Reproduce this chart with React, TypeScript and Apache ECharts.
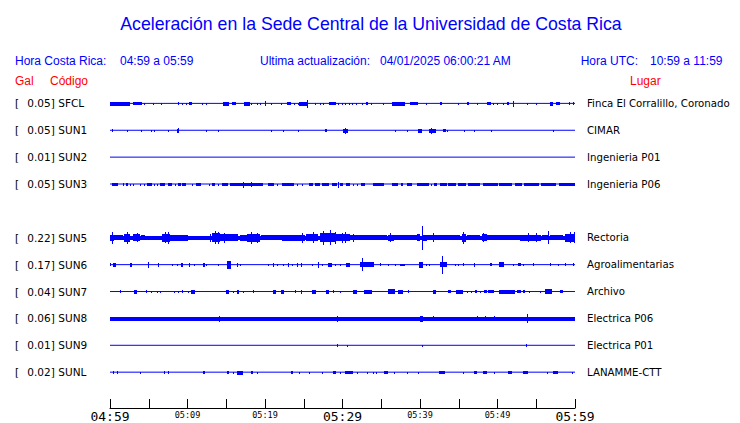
import React, { useEffect, useRef } from 'react';
import * as echarts from 'echarts';

const BLUE = '#0000ff';
const RED = '#ff0000';

const TITLE = 'Aceleración en la Sede Central de la Universidad de Costa Rica';
const HEADER_LOCAL_LABEL = 'Hora Costa Rica:';
const HEADER_LOCAL_RANGE = '04:59 a 05:59';
const HEADER_UPDATE_LABEL = 'Ultima actualización:';
const HEADER_UPDATE_VALUE = '04/01/2025 06:00:21 AM';
const HEADER_UTC_LABEL = 'Hora UTC:';
const HEADER_UTC_RANGE = '10:59 a 11:59';

// Stations (row slot 4 is empty in the original display)
const CODES = ['SFCL', 'SUN1', 'SUN2', 'SUN3', 'SUN5', 'SUN6', 'SUN7', 'SUN8', 'SUN9', 'SUNL'];
const GAL = ['0.05', '0.05', '0.01', '0.05', '0.22', '0.17', '0.04', '0.06', '0.01', '0.02'];
const PLACES = [
  'Finca El Corralillo, Coronado',
  'CIMAR',
  'Ingenieria P01',
  'Ingenieria P06',
  'Rectoria',
  'Agroalimentarias',
  'Archivo',
  'Electrica P06',
  'Electrica P01',
  'LANAMME-CTT',
];
const ROW_SLOT = [0, 1, 2, 3, 5, 6, 7, 8, 9, 10];

// x axis: minutes after 04:59, ticks every 5 minutes
const TICK_LABELS = ['04:59', '', '05:09', '', '05:19', '', '05:29', '', '05:39', '', '05:49', '', '05:59'];
const MAJOR_LABELS = ['04:59', '05:29', '05:59'];

// Trace bursts: [start minute, end minute, half amplitude (1/27 of a row)]
const SFCL_EV = [
  [0, 2.6, 2], [3.0, 4.1, 1.5], [4.4, 4.4, 1.2], [5.6, 5.6, 1], [6.6, 6.6, 1], [8.8, 8.8, 1.5],
  [9.3, 9.3, 1], [9.9, 9.9, 1], [10.3, 10.6, 1.5], [11.9, 11.9, 1], [12.5, 12.5, 1], [14.7, 15.4, 2],
  [15.8, 16.3, 1.5], [17.4, 18.0, 2.2], [18.2, 18.2, 1.2], [19.0, 19.0, 1], [19.4, 19.4, 1], [20.0, 20.0, 2.5],
  [20.9, 20.9, 1], [22.1, 22.1, 1.2], [22.9, 23.3, 1.5], [23.8, 23.8, 1], [24.3, 24.3, 1], [24.5, 25.6, 2],
  [25.5, 25.5, 4], [26.5, 26.5, 1], [27.1, 27.1, 1], [27.6, 27.6, 1], [28.3, 29.1, 1.5], [29.5, 29.5, 1],
  [30.0, 30.0, 1], [30.4, 30.4, 1.2], [30.9, 30.9, 1], [31.3, 31.3, 1.2], [31.8, 31.8, 1.2], [32.6, 32.6, 1.2],
  [33.1, 33.3, 1.5], [33.8, 33.8, 1], [35.3, 35.3, 1], [36.4, 38.1, 2], [38.8, 39.7, 1.5], [40.8, 40.8, 1],
  [42.6, 42.9, 1.5], [45.0, 45.0, 1], [46.1, 46.3, 1.5], [47.4, 47.4, 1], [48.7, 49.1, 1.5], [49.5, 49.5, 1],
  [50.0, 50.0, 1], [50.8, 50.8, 1], [51.3, 51.5, 1.5], [52.0, 52.0, 3], [53.9, 53.9, 1], [55.0, 55.0, 1],
  [56.8, 57.2, 2], [57.6, 58.1, 1.5], [59.3, 59.3, 1.5], [59.8, 59.8, 1.5],
];
const SUN1_EV = [
  [0.3, 0.3, 1.5], [2.3, 2.3, 1], [4.1, 4.1, 1], [5.4, 5.4, 1], [5.7, 5.7, 1], [7.6, 7.6, 1],
  [8.7, 8.9, 2], [8.8, 8.8, 2.7], [12.5, 12.5, 1], [14.0, 14.0, 1], [20.8, 20.8, 1], [22.4, 22.4, 1],
  [24.3, 24.3, 1], [27.8, 28.0, 1.5], [30.1, 30.7, 2], [30.4, 30.4, 3], [36.8, 36.8, 1], [38.4, 38.4, 1],
  [39.8, 40.3, 2], [41.2, 42.1, 2], [41.5, 41.5, 3], [43.0, 43.3, 1.5], [43.5, 43.5, 1], [45.7, 45.7, 1],
  [47.0, 47.0, 1], [49.2, 49.2, 1], [57.2, 57.2, 1],
];
const SUN2_EV: number[][] = [];
const SUN3_EV = [
  [0.3, 1.0, 1.7], [1.7, 1.7, 1.5], [2.1, 2.3, 1.5], [2.7, 2.7, 1.2], [3.0, 3.0, 1.2], [3.9, 3.9, 1.2],
  [4.5, 4.5, 1], [4.9, 5.4, 1.7], [5.7, 5.7, 1.2], [6.1, 6.1, 1.2], [6.5, 7.1, 1.7], [7.5, 8.0, 1.7],
  [8.4, 8.4, 1.2], [8.8, 9.2, 1.7], [9.4, 9.8, 1.5], [10.7, 10.7, 1], [11.2, 11.8, 1.7], [12.9, 12.9, 1],
  [13.2, 13.6, 1.5], [14.0, 14.0, 1.2], [14.5, 15.2, 1.7], [15.6, 16.4, 1.7], [16.5, 19.8, 1.7], [17.2, 17.2, 3],
  [18.3, 18.3, 2.5], [20.4, 21.1, 1.7], [21.6, 21.6, 1.2], [22.2, 23.8, 1.7], [24.2, 24.2, 1.2], [24.8, 24.8, 1.2],
  [25.7, 26.2, 1.7], [26.5, 27.1, 1.7], [27.4, 28.2, 1.7], [28.7, 29.3, 1.7], [29.5, 29.5, 3], [29.7, 30.1, 1.5],
  [30.5, 31.0, 1.7], [31.4, 31.4, 1.2], [31.9, 31.9, 1.2], [32.4, 32.9, 1.7], [34.0, 35.3, 1.7], [36.4, 37.2, 1.7],
  [37.6, 37.8, 1.5], [38.4, 39.0, 1.7], [39.7, 41.1, 1.7], [41.5, 41.5, 1.2], [41.9, 42.2, 1.5], [42.6, 43.5, 1.7],
  [43.7, 44.2, 1.7], [44.3, 44.6, 1.5], [45.0, 45.9, 1.7], [46.3, 47.8, 1.7], [48.2, 50.0, 1.7], [50.3, 51.3, 1.7],
  [51.4, 51.9, 1.5], [52.3, 53.2, 1.7], [53.5, 55.4, 1.7], [55.7, 57.6, 1.7], [58.0, 60, 1.7],
];
const SUN5_EV = [
  [0, 60, 1.8],
  [0, 0.5, 3], [0.6, 1.7, 2.3], [1.9, 2.6, 4], [3.0, 3.9, 3.3], [4.1, 4.5, 2.3], [6.8, 7.8, 4], [7.8, 9.3, 3],
  [9.4, 10.1, 3], [13.2, 14.2, 4.5], [14.2, 16.5, 3.3], [16.8, 17.7, 2.8], [17.8, 19.4, 4], [19.6, 22.2, 2.5],
  [22.3, 23.5, 2.8], [23.6, 25.2, 3], [25.4, 26.9, 3.3], [27.1, 29.1, 4.5], [29.1, 31.0, 3.5], [31.0, 35.8, 2.5],
  [35.9, 36.6, 3], [36.6, 39.7, 2.5], [39.7, 40.0, 3.5], [40.4, 40.9, 3], [40.9, 45.2, 2.5], [45.5, 45.9, 4],
  [46.1, 47.8, 2.5], [48.1, 48.7, 3.3], [48.7, 53.0, 2.5], [53.0, 55.6, 3.2], [55.8, 56.5, 2.5], [56.8, 58.5, 2.5],
  [58.8, 60, 4],
  [0.26, 0.26, 6], [2.3, 2.3, 6], [3.5, 3.5, 4.5], [7.1, 7.1, 5.5], [7.5, 7.5, 6], [13.0, 13.0, 4], [13.6, 13.6, 6.5],
  [14.0, 14.0, 6], [14.8, 14.8, 5], [18.3, 18.3, 6], [19.0, 19.0, 5], [24.8, 24.8, 5], [26.3, 26.3, 5.5],
  [27.6, 27.6, 7], [28.4, 28.4, 7.5], [29.1, 29.1, 6], [30.0, 30.0, 5], [30.4, 30.4, 5.5], [31.4, 31.4, 4],
  [36.2, 36.2, 4.5], [40.3, 40.3, 12], [41.7, 41.7, 4.5], [45.6, 45.6, 6], [48.2, 48.2, 4.5], [54.0, 54.0, 4.5],
  [55.0, 55.0, 4.5], [56.6, 56.6, 6.5], [59.4, 59.4, 5.5], [59.9, 59.9, 5.5],
];
const SUN6_EV = [
  [0.1, 0.1, 1.5], [0.5, 0.8, 2], [2.7, 2.8, 2], [5.0, 5.0, 3], [6.2, 6.2, 2], [8.1, 8.1, 1], [8.7, 8.7, 1],
  [9.2, 9.4, 2], [10.2, 10.2, 2], [10.9, 10.9, 1], [12.0, 12.3, 2], [12.5, 12.5, 1], [14.0, 14.0, 1],
  [15.2, 15.6, 4], [16.5, 16.5, 2], [16.9, 16.9, 1], [20.5, 20.5, 1], [21.1, 21.1, 2], [21.6, 21.6, 1],
  [22.4, 22.4, 1], [23.0, 23.0, 2], [23.5, 23.5, 1], [24.2, 24.3, 2], [24.7, 24.7, 2], [26.1, 26.1, 1],
  [26.9, 26.9, 3], [27.4, 27.4, 1], [28.2, 28.7, 2], [29.1, 29.1, 1], [29.7, 29.7, 1], [30.5, 31.0, 2],
  [32.3, 34.0, 2.5], [32.6, 32.6, 6.5], [34.9, 34.9, 1.5], [35.9, 35.9, 1], [36.8, 36.8, 1], [37.5, 38.1, 1.2],
  [39.9, 40.4, 3], [40.8, 40.8, 1], [41.2, 41.2, 1], [42.6, 43.5, 2.5], [42.9, 42.9, 9], [44.6, 44.6, 1],
  [45.0, 45.0, 1], [45.6, 45.6, 1.5], [47.0, 47.0, 2], [49.1, 49.3, 1.5], [50.2, 50.8, 2.5], [52.0, 52.0, 1],
  [52.7, 53.0, 1.5], [53.3, 53.3, 1], [54.6, 54.6, 1.5], [56.8, 56.8, 1.5], [57.9, 57.9, 1], [58.8, 58.8, 1.5],
  [59.8, 59.8, 1.5],
];
const SUN7_EV = [
  [1.3, 1.3, 1.5], [3.1, 3.5, 2], [4.7, 4.7, 1.5], [5.4, 5.4, 1], [6.1, 6.1, 1], [6.5, 6.5, 1], [8.3, 8.3, 1],
  [8.8, 8.8, 1], [9.4, 9.4, 1.5], [10.1, 10.1, 1], [10.5, 11.0, 2], [15.0, 15.4, 2], [15.9, 15.9, 1],
  [16.4, 16.7, 2], [17.2, 17.2, 1], [18.5, 18.5, 1.5], [21.1, 21.4, 2], [22.1, 22.4, 2], [23.9, 23.9, 1.5],
  [24.7, 24.8, 2], [26.1, 26.6, 2], [27.9, 28.3, 2], [28.8, 28.8, 1.5], [29.8, 29.8, 1], [31.4, 31.9, 2],
  [32.9, 33.8, 2], [35.9, 36.8, 2.5], [37.2, 37.8, 2], [38.5, 38.5, 1.5], [41.7, 42.0, 2], [43.7, 44.0, 1.5],
  [44.7, 45.5, 2], [46.1, 46.1, 1.2], [46.6, 46.6, 1.2], [47.1, 47.3, 1.5], [47.8, 47.8, 1.2], [48.3, 48.6, 1.5],
  [48.9, 49.5, 1.5], [50.2, 52.3, 2], [52.6, 53.0, 1.5], [53.4, 53.6, 1.5], [54.1, 54.1, 1], [55.5, 55.5, 1],
  [56.2, 57.0, 2.5], [58.1, 58.5, 1.5],
];
const SUN8_EV = [
  [0, 60, 1.8], [0, 2.3, 2.2], [4.9, 5.4, 2.2], [14.1, 14.1, 3], [29.3, 29.3, 3], [29.5, 30.4, 2.2],
  [40.0, 40.4, 3], [41.7, 41.7, 2.5], [47.4, 47.4, 2.5], [48.4, 48.4, 2.5], [49.6, 49.6, 2.5],
  [52.3, 54.3, 2.2], [53.9, 53.9, 4.5], [55.5, 60, 2.2],
];
const SUN9_EV = [[29.3, 29.3, 1.7], [30.6, 30.6, 1], [40.3, 40.3, 1], [53.8, 53.8, 1.7]];
const SUNL_EV = [
  [0.4, 0.4, 1.5], [1.0, 1.0, 1.5], [3.9, 3.9, 1.2], [7.0, 7.0, 1.5], [7.5, 7.5, 1.5], [12.0, 12.3, 1.5],
  [15.2, 15.4, 1.5], [15.9, 15.9, 1], [16.5, 17.2, 2], [18.2, 18.5, 1.5], [19.0, 19.0, 1], [23.4, 23.6, 1.5],
  [24.5, 24.5, 1], [25.7, 25.7, 1], [27.4, 27.4, 1], [28.8, 29.1, 1.5], [29.7, 29.7, 1], [30.4, 31.3, 1.5],
  [31.9, 31.9, 1], [33.2, 33.2, 1], [34.0, 34.0, 1], [34.4, 34.4, 1], [35.4, 35.9, 1.5], [36.7, 36.7, 1],
  [38.4, 38.4, 1], [39.8, 39.8, 1], [42.5, 43.2, 1.5], [45.6, 45.6, 1], [47.0, 47.4, 1.5], [48.2, 48.7, 1.5],
  [49.6, 49.6, 1], [51.4, 51.9, 1.5], [53.3, 53.9, 1.5], [56.5, 56.5, 1], [57.2, 57.8, 1.5], [59.7, 59.7, 1],
];
const EVENTS = [SFCL_EV, SUN1_EV, SUN2_EV, SUN3_EV, SUN5_EV, SUN6_EV, SUN7_EV, SUN8_EV, SUN9_EV, SUNL_EV];

const AMP_PER_ROW = 27;
const Y_MIN = -1;
const Y_MAX = 11.3333;

const SANS = 'Liberation Sans, Arial, Helvetica, sans-serif';
const DEJAVU = 'DejaVu Sans, sans-serif';
const MONO = 'DejaVu Sans Mono, monospace';

function rowLabel(v: number, kind: 'left' | 'right'): string {
  const i = ROW_SLOT.findIndex((s) => Math.abs(s - v) < 1e-6);
  if (i < 0) return '';
  if (kind === 'right') return PLACES[i];
  return `{br|[}{val|${GAL[i]}]}{code| ${CODES[i]}}`;
}

export default function App() {
  const ref = useRef<HTMLDivElement>(null);
  useEffect(() => {
    document.body.style.margin = '0';
    if (!ref.current) return;
    const chart = echarts.init(ref.current, undefined, { renderer: 'svg' });

    const burstData: number[][] = [];
    EVENTS.forEach((evs, i) => {
      evs.forEach((e) => burstData.push([e[0], e[1], e[2], ROW_SLOT[i]]));
    });

    const baseSeries = ROW_SLOT.map((slot) => ({
      type: 'line',
      data: [[0, slot], [60, slot]],
      symbol: 'none',
      silent: true,
      lineStyle: { color: BLUE, width: 1 },
      z: 2,
    }));

    const yAxisBase = {
      type: 'value',
      min: Y_MIN,
      max: Y_MAX,
      interval: 1,
      inverse: true,
      axisLine: { show: false },
      axisTick: { show: false },
      splitLine: { show: false },
    };

    const headerText = (text: string, x: number, y: number, fill: string) => ({
      type: 'text',
      x,
      y,
      style: { text, fill, fontSize: 12, fontFamily: SANS, align: 'left', verticalAlign: 'middle' },
    });

    chart.setOption({
      animation: false,
      backgroundColor: '#ffffff',
      grid: { left: 110, top: 76.5, width: 465, height: 333, containLabel: false },
      xAxis: {
        type: 'value',
        min: 0,
        max: 60,
        interval: 5,
        axisLine: { show: true, onZero: false, lineStyle: { color: '#000', width: 1 } },
        axisTick: { show: true, inside: true, length: 9, lineStyle: { color: '#000', width: 1 } },
        splitLine: { show: false },
        axisLabel: {
          margin: 2,
          color: '#000',
          formatter: (v: number) => {
            const lab = TICK_LABELS[Math.round(v / 5)] || '';
            if (!lab) return '';
            return MAJOR_LABELS.includes(lab) ? `{big|${lab}}` : `{small|${lab}}`;
          },
          rich: {
            big: { fontSize: 13, fontFamily: MONO, color: '#000' },
            small: { fontSize: 8.5, fontFamily: MONO, color: '#000' },
          },
        },
      },
      yAxis: [
        {
          ...yAxisBase,
          position: 'left',
          axisLabel: {
            align: 'left',
            margin: 95,
            formatter: (v: number) => rowLabel(v, 'left'),
            rich: {
              br: { fontSize: 10.5, fontFamily: DEJAVU, color: '#000', width: 12, align: 'left' },
              val: { fontSize: 10.5, fontFamily: DEJAVU, color: '#000', width: 28, align: 'right' },
              code: { fontSize: 10.5, fontFamily: DEJAVU, color: '#000' },
            },
          },
        },
        {
          ...yAxisBase,
          position: 'right',
          axisLabel: {
            align: 'left',
            margin: 12,
            color: '#000',
            fontSize: 10.2,
            fontFamily: DEJAVU,
            formatter: (v: number) => rowLabel(v, 'right'),
          },
        },
      ],
      series: [
        ...baseSeries,
        {
          type: 'custom',
          coordinateSystem: 'cartesian2d',
          silent: true,
          z: 3,
          encode: { x: [0, 1], y: 3 },
          data: burstData,
          renderItem: (params: any, api: any) => {
            const t0 = api.value(0);
            const t1 = api.value(1);
            const a = api.value(2);
            const slot = api.value(3);
            const p0 = api.coord([t0, slot]);
            const p1 = api.coord([t1, slot]);
            const dy = api.size([0, a / AMP_PER_ROW])[1];
            const x0 = Math.floor(p0[0]);
            const x1 = Math.max(x0 + 1, Math.round(p1[0]));
            const c = Math.floor(p0[1]);
            const total = Math.max(1, Math.round(2 * dy));
            const top = c - Math.floor((total - 1) / 2);
            return {
              type: 'rect',
              shape: { x: x0, y: top, width: x1 - x0, height: total },
              style: { fill: BLUE },
            };
          },
        },
      ],
      graphic: [
        {
          type: 'text',
          x: 371,
          y: 24,
          style: { text: TITLE, fill: BLUE, fontSize: 17.7, fontFamily: SANS, align: 'center', verticalAlign: 'middle' },
        },
        headerText(HEADER_LOCAL_LABEL, 15, 60.7, BLUE),
        headerText(HEADER_LOCAL_RANGE, 120, 60.7, BLUE),
        headerText(HEADER_UPDATE_LABEL, 260, 60.7, BLUE),
        headerText(HEADER_UPDATE_VALUE, 380, 60.7, BLUE),
        headerText(HEADER_UTC_LABEL, 580.7, 60.7, BLUE),
        headerText(HEADER_UTC_RANGE, 650, 60.7, BLUE),
        headerText('Gal', 15, 80.7, RED),
        headerText('Código', 50, 80.7, RED),
        headerText('Lugar', 630, 80.7, RED),
      ],
    });

    return () => chart.dispose();
  }, []);

  return <div ref={ref} style={{ width: 740, height: 423 }} />;
}
